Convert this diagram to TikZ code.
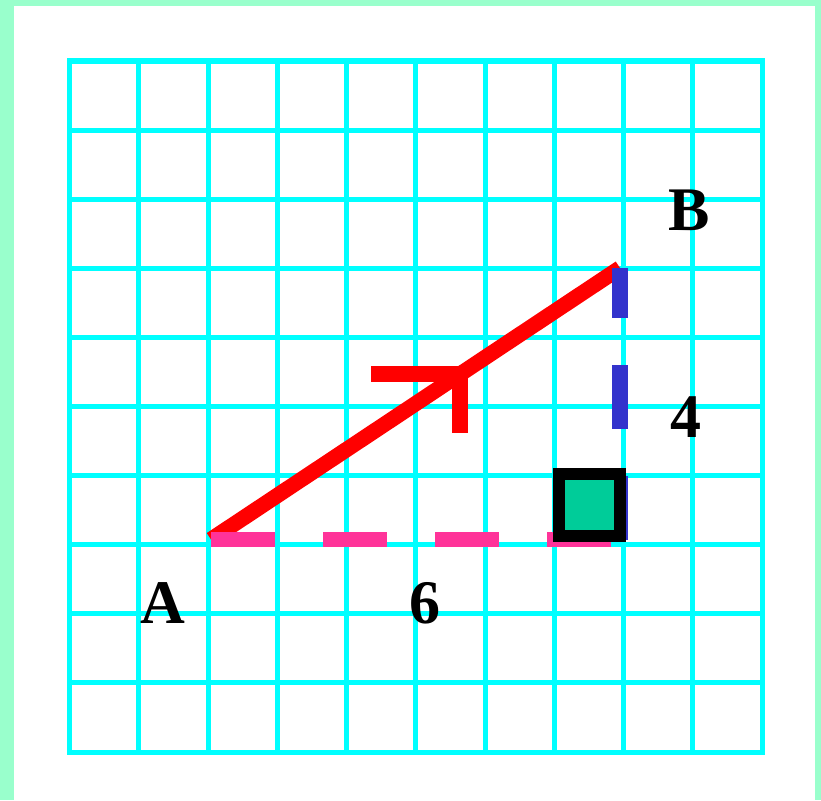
\documentclass[tikz,border=0pt]{standalone}
\usepackage{fontspec}
\setmainfont{Liberation Serif}
\definecolor{bordergreen}{HTML}{99FFCC}
\definecolor{gridcyan}{HTML}{00FFFF}
\definecolor{segred}{HTML}{FF0000}
\definecolor{segpink}{HTML}{FF3399}
\definecolor{segblue}{HTML}{3333CC}
\definecolor{sqgreen}{HTML}{00CC99}
\begin{document}
\begin{tikzpicture}[x=1pt,y=-1pt,
  gridline/.style={draw=gridcyan,line width=5pt,line cap=rect},
  hyp/.style={draw=segred,line width=15.5pt},
  legpink/.style={draw=segpink,line width=15.5pt,dash pattern=on 64pt off 48pt},
  legblue/.style={draw=segblue,line width=16pt,dash pattern=on 64pt off 47pt},
  rightmark/.style={draw=black,fill=sqgreen,line width=12pt},
  lbl/.style={inner sep=0pt,font=\bfseries\fontsize{62}{62}\selectfont}]
\useasboundingbox (0,0) rectangle (821,800);
\fill[bordergreen] (0,0) rectangle (821,800);
\fill[white] (14,6) rectangle (815,800);
% grid
\foreach \i in {0,...,10}{
  \draw[gridline] ({69.5+69.25*\i},61) -- ({69.5+69.25*\i},752);
  \draw[gridline] (69.5,{61+69.1*\i}) -- (762,{61+69.1*\i});
}
% key points
\coordinate (A) at (211,539.5);
\coordinate (B) at (620,268);
\coordinate (C) at (620,539.5);
\coordinate (P) at (611,539.5);
\coordinate (Tl) at (371,374);
\coordinate (Tr) at (468,374);
\coordinate (Tt) at (460,366.5);
\coordinate (Tb) at (460,432.7);
% hypotenuse
\draw[hyp] (A) -- (B);
% T mark
\draw[hyp] (Tl) -- (Tr);
\draw[draw=segred,line width=16pt] (Tt) -- (Tb);
% legs
\draw[legpink] (A) -- (P);
\draw[legblue] (C) -- (B);
% right angle square
\draw[rightmark] (558.7,474.3) rectangle (620,535.7);
% labels
\node[lbl] (lB) at (688.7,210) {B};
\node[lbl] (l4) at (685.5,417) {4};
\node[lbl] (lA) at (162.7,603.3) {A};
\node[lbl] (l6) at (424.7,603.3) {6};
\end{tikzpicture}
\end{document}
